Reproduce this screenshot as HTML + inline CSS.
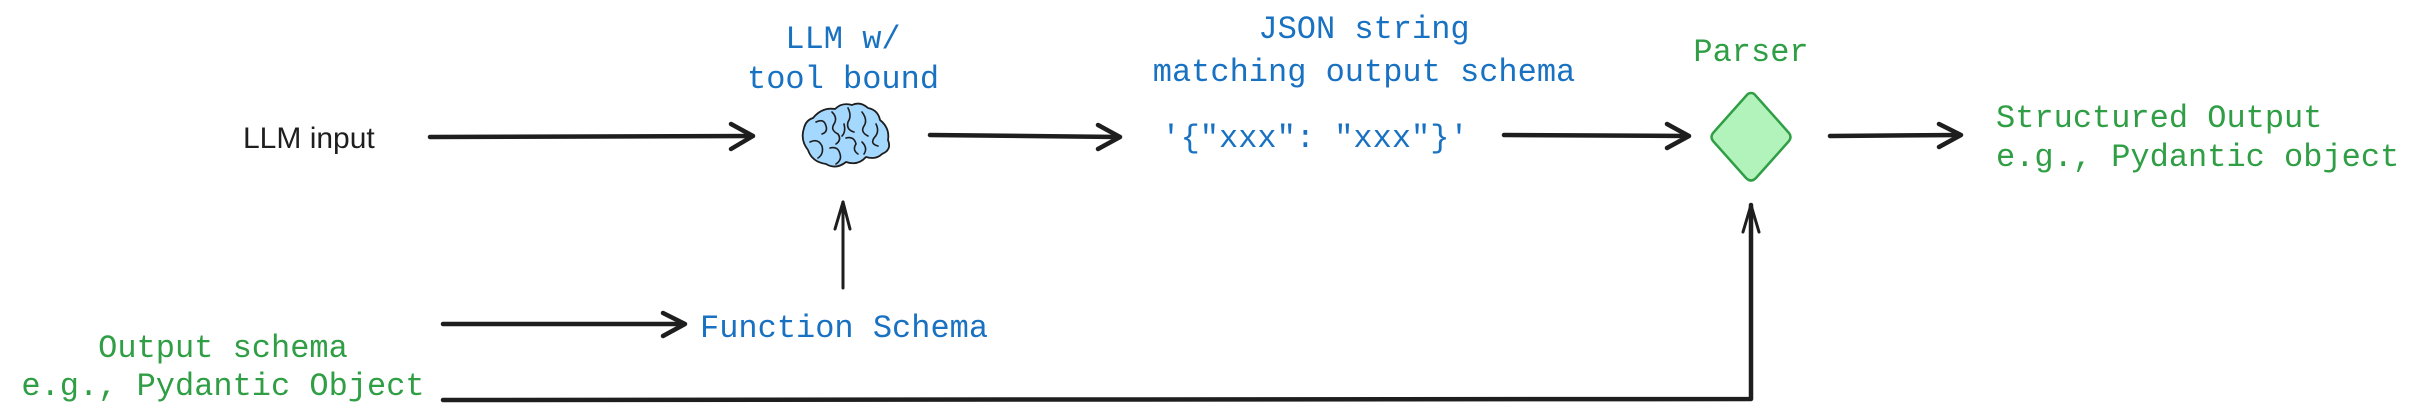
<!DOCTYPE html>
<html><head><meta charset="utf-8"><style>
html,body{margin:0;padding:0;background:#fff}
svg{display:block}
text{font-family:"Liberation Mono","DejaVu Sans Mono",monospace;font-size:32px}
.b{fill:#1971c2}.g{fill:#2f9e44}
</style></head><body>
<svg width="2411" height="415" viewBox="0 0 2411 415" xmlns="http://www.w3.org/2000/svg">
<g stroke="#1e1e1e" stroke-linecap="round" stroke-linejoin="round" fill="none">
<path d="M430 137 L752 136" stroke-width="4.5"/>
<path d="M731 124 L753 136 L731 149" stroke-width="4.5"/>
<path d="M930 135 L1119 137" stroke-width="4.5"/>
<path d="M1098 125 L1120 137 L1098 149" stroke-width="4.5"/>
<path d="M1504 135 L1688 136" stroke-width="4.5"/>
<path d="M1667 124 L1689 136 L1667 148" stroke-width="4.5"/>
<path d="M1830 136 L1960 135" stroke-width="4.5"/>
<path d="M1939 124 L1961 135 L1939 147" stroke-width="4.5"/>
<path d="M843 288 L843 202" stroke-width="3"/>
<path d="M835 229 L843 202 L850 229" stroke-width="3"/>
<path d="M443 324 L684 324" stroke-width="4.5"/>
<path d="M663 313 L685 324 L663 336" stroke-width="4.5"/>
<path d="M443 400 L1751 399 L1751 205" stroke-width="4.5"/>
<path d="M1743 232 L1751 205 L1759 232" stroke-width="3"/>
</g>
<g stroke="#1e1e1e" stroke-width="1.8" fill="#a5d8ff" stroke-linejoin="round" stroke-linecap="round">
<path d="M813 118 Q822 107 835 109 Q842 102 852 105 Q860 101 868 108 Q878 110 880 120 Q890 128 888 140 Q892 150 882 154 Q876 160 866 157 Q858 166 846 162 Q836 170 826 164 Q812 162 808 150 Q800 140 804 128 Q806 120 813 118 Z"/>
<g fill="none" stroke-width="1.6">
<path d="M816 122 Q824 118 826 126 Q828 132 822 134"/>
<path d="M832 112 Q838 118 834 124 Q830 130 838 134 Q842 140 836 144"/>
<path d="M848 108 Q852 116 848 122 Q846 130 854 132"/>
<path d="M862 112 Q868 120 864 126 Q860 132 868 136"/>
<path d="M876 124 Q880 132 874 138 Q870 144 878 146"/>
<path d="M810 142 Q818 138 822 146 Q824 154 818 158"/>
<path d="M830 148 Q838 146 840 154 Q842 160 836 164"/>
<path d="M846 138 Q854 136 856 144 Q852 150 858 154"/>
<path d="M862 142 Q868 148 864 154"/>
<path d="M844 124 Q846 132 842 136"/>
</g>
</g>
<path d="M1751 93 Q1754 93 1756 96 L1789 133 Q1792 137 1789 141 L1756 178 Q1751 183 1746 178 L1713 141 Q1710 137 1713 133 L1746 96 Q1748 93 1751 93 Z" fill="#b2f2bb" stroke="#2f9e44" stroke-width="2.5"/>
<text x="243" y="148" style="font-family:'Liberation Sans',sans-serif;font-size:30px" fill="#1e1e1e">LLM input</text>
<text class="b" x="843" y="48" text-anchor="middle">LLM w/</text>
<text class="b" x="843" y="88" text-anchor="middle">tool bound</text>
<text class="b" x="1364" y="38" text-anchor="middle">JSON string</text>
<text class="b" x="1364" y="81" text-anchor="middle">matching output schema</text>
<text class="b" x="1315" y="147" text-anchor="middle">'{"xxx": "xxx"}'</text>
<text class="g" x="1751" y="61" text-anchor="middle">Parser</text>
<text class="g" x="1996" y="127">Structured Output</text>
<text class="g" x="1996" y="166">e.g., Pydantic object</text>
<text class="b" x="700" y="337">Function Schema</text>
<text class="g" x="223" y="357" text-anchor="middle">Output schema</text>
<text class="g" x="223" y="395" text-anchor="middle">e.g., Pydantic Object</text>
</svg>
</body></html>
